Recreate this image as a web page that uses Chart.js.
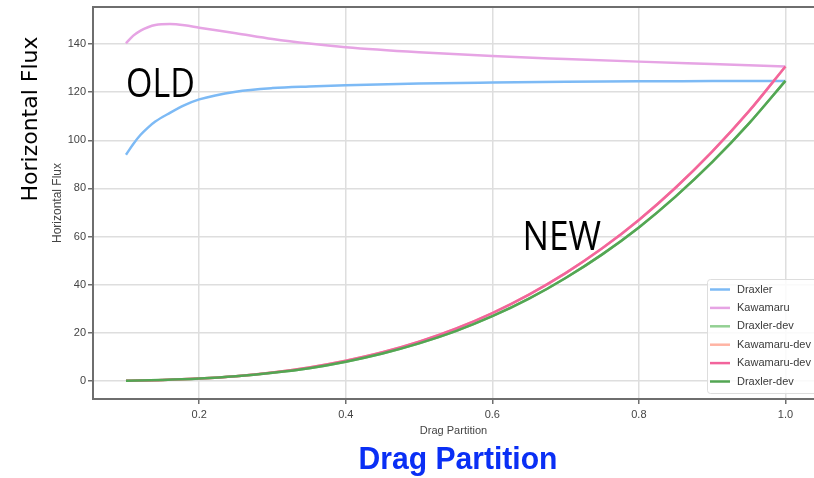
<!DOCTYPE html>
<html lang="en">
<head>
<meta charset="UTF-8">
<title>Horizontal Flux x Drag Partition</title>
<style>
  html, body { margin: 0; padding: 0; background: #fff; }
  .container_grafico { position: relative; width: 814px; height: 478px; overflow: hidden; }
</style>
</head>
<body>
<div class="container_grafico">
  <canvas id="grafico" width="814" height="478"></canvas>
</div>
<script src="https://cdn.jsdelivr.net/npm/chart.js"></script>
<script>
  // old formulation, sampled closer near the low end where it bends
  var partitionOld = [0.1, 0.11, 0.12, 0.13, 0.14, 0.16, 0.18, 0.2, 0.25, 0.3, 0.35, 0.4, 0.5, 0.6, 0.7, 0.8, 0.9, 1.0];
  var draxler  = [94.0, 98.5, 102.3, 105.3, 107.8, 111.4, 114.6, 117.0, 120.2, 121.7, 122.4, 122.9, 123.6, 124.0, 124.3, 124.5, 124.6, 124.7];
  var kawamaru = [140.3, 143.5, 145.6, 147.0, 147.9, 148.3, 147.8, 146.8, 144.5, 142.1, 140.2, 138.7, 136.6, 135.0, 133.8, 132.7, 131.7, 130.7];

  // new (dev) formulation
  var partitionNew = [0.1, 0.15, 0.2, 0.25, 0.3, 0.35, 0.4, 0.45, 0.5, 0.55, 0.6, 0.65, 0.7, 0.75, 0.8, 0.85, 0.9, 0.95, 1.0];
  var kawamaruDev = [0.13, 0.44, 1.05, 2.0, 3.5, 5.6, 8.4, 11.9, 16.3, 21.7, 28.2, 35.9, 44.8, 55.1, 66.9, 80.3, 95.3, 112.0, 130.7];
  var draxlerDev  = [0.12, 0.42, 1.0, 1.95, 3.4, 5.3, 8.0, 11.4, 15.6, 20.7, 26.9, 34.2, 42.8, 52.6, 63.8, 76.6, 90.9, 106.9, 124.7];

  var xTicks = [0.2, 0.4, 0.6, 0.8, 1.0];
  var yTicks = [0, 20, 40, 60, 80, 100, 120, 140];

  function pares(xs, ys) {
    return xs.map(function (x, i) { return { x: x, y: ys[i] }; });
  }

  function serie(label, xs, ys, cor) {
    return {
      label: label,
      data: pares(xs, ys),
      borderColor: cor,
      backgroundColor: cor,
      borderWidth: 2.5,
      pointRadius: 0,
      cubicInterpolationMode: 'monotone',
      fill: false
    };
  }

  var datasets = [
    serie('Draxler', partitionOld, draxler, '#7dbaf5'),
    serie('Kawamaru', partitionOld, kawamaru, '#e6a4e4'),
    serie('Draxler-dev', partitionNew, draxlerDev, '#93d093'),
    serie('Kawamaru-dev', partitionNew, kawamaruDev, '#ffb4a4'),
    serie('Kawamaru-dev', partitionNew, kawamaruDev, '#f2649c'),
    serie('Draxler-dev', partitionNew, draxlerDev, '#53a653')
  ];
  // later series go on top, like a plain plot() sequence
  datasets.forEach(function (ds, i) { ds.order = datasets.length - i; });

  // legend box, top spine and the big labels
  const extras = {
    id: 'extras',
    afterDraw(chart) {
      const ctx = chart.ctx;
      const area = chart.chartArea;
      const sx = chart.scales.x, sy = chart.scales.y;
      ctx.save();

      ctx.strokeStyle = '#6e6e6e';
      ctx.lineWidth = 2;
      ctx.beginPath();
      ctx.moveTo(area.left, area.top);
      ctx.lineTo(area.right, area.top);
      ctx.stroke();

      // legend
      ctx.fillStyle = 'rgba(255,255,255,0.85)';
      ctx.strokeStyle = '#dddddd';
      ctx.lineWidth = 1;
      ctx.beginPath();
      ctx.roundRect(707.5, 279.5, 120, 114, 3);
      ctx.fill();
      ctx.stroke();
      ctx.font = '11px "Liberation Sans", Arial, sans-serif';
      ctx.textBaseline = 'middle';
      chart.data.datasets.forEach(function (ds, i) {
        const yy = 289.5 + i * 18.4;
        ctx.strokeStyle = ds.borderColor;
        ctx.lineWidth = 2.5;
        ctx.beginPath();
        ctx.moveTo(710, yy);
        ctx.lineTo(730, yy);
        ctx.stroke();
        ctx.fillStyle = '#3a3a3a';
        ctx.fillText(ds.label, 737, yy);
      });

      // OLD / NEW
      ctx.fillStyle = '#000';
      ctx.textBaseline = 'alphabetic';
      ctx.font = '40px "Open Sans", sans-serif';
      ctx.save();
      ctx.translate(sx.getPixelForValue(0.1), sy.getPixelForValue(118));
      ctx.scale(0.85, 1);
      ctx.fillText('OLD', 0, 0);
      ctx.restore();
      ctx.save();
      ctx.translate(sx.getPixelForValue(0.641), sy.getPixelForValue(54.5));
      ctx.scale(0.88, 1);
      ctx.fillText('NEW', 0, 0);
      ctx.restore();

      // outer axis titles
      ctx.save();
      ctx.translate(37, 119);
      ctx.rotate(-Math.PI / 2);
      ctx.textAlign = 'center';
      ctx.font = '22px "DejaVu Sans", sans-serif';
      ctx.fillText('Horizontal Flux', 0, 0);
      ctx.restore();

      ctx.save();
      ctx.translate(458, 469);
      ctx.scale(0.94, 1);
      ctx.textAlign = 'center';
      ctx.fillStyle = '#0a2ff5';
      ctx.font = 'bold 32px "Liberation Sans", Arial, sans-serif';
      ctx.fillText('Drag Partition', 0, 0);
      ctx.restore();

      ctx.restore();
    }
  };

  const fonteTick = { family: '"Liberation Sans", Arial, sans-serif', size: 11 };

  new Chart(document.getElementById('grafico'), {
    type: 'line',
    data: { datasets: datasets },
    plugins: [extras],
    options: {
      responsive: false,
      animation: false,
      layout: { padding: { top: 7, left: 0, right: 0, bottom: 0 } },
      plugins: { legend: { display: false }, tooltip: { enabled: false } },
      scales: {
        x: {
          type: 'linear',
          min: 0.055,
          max: 1.039,
          afterBuildTicks: function (s) { s.ticks = xTicks.map(function (v) { return { value: v }; }); },
          afterFit: function (s) { s.height = 79; s.paddingLeft = 0; s.paddingRight = 0; },
          ticks: {
            color: '#444',
            font: fonteTick,
            padding: 4,
            maxRotation: 0,
            callback: function (v) { return v.toFixed(1); }
          },
          grid: { color: '#dedede', lineWidth: 1.5, tickColor: '#6e6e6e', tickLength: 5 },
          border: { color: '#6e6e6e', width: 2 },
          title: {
            display: true,
            text: 'Drag Partition',
            color: '#444',
            font: fonteTick,
            padding: { top: 0, bottom: 40 }
          }
        },
        y: {
          min: -7.5,
          max: 155.4,
          afterBuildTicks: function (s) { s.ticks = yTicks.map(function (v) { return { value: v }; }); },
          afterFit: function (s) { s.width = 93; s.paddingTop = 0; s.paddingBottom = 0; },
          ticks: { color: '#444', font: fonteTick, padding: 2 },
          grid: { color: '#dedede', lineWidth: 1.5, tickColor: '#6e6e6e', tickLength: 5 },
          border: { color: '#6e6e6e', width: 2 },
          title: {
            display: true,
            text: 'Horizontal Flux',
            color: '#444',
            font: { family: '"Liberation Sans", Arial, sans-serif', size: 12 },
            padding: { top: 50, bottom: 0 }
          }
        }
      }
    }
  });
</script>
</body>
</html>
